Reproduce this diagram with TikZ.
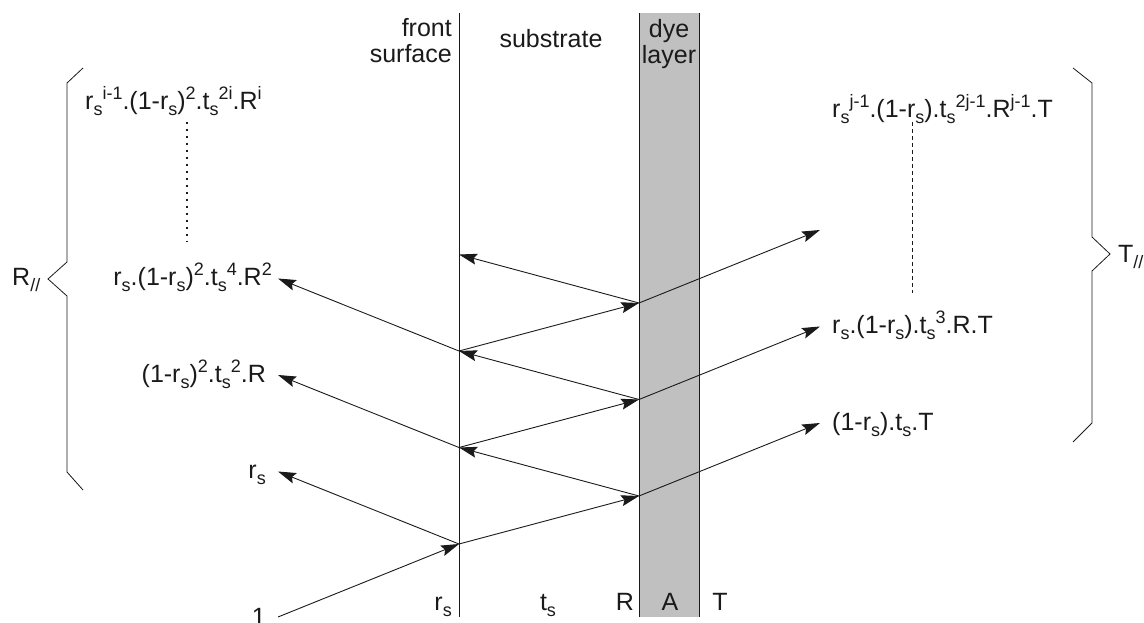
\documentclass[tikz,border=0pt]{standalone}
\usepackage{fontspec}
\setmainfont{Liberation Sans}
\usetikzlibrary{arrows.meta}
\definecolor{ink}{HTML}{1A1A1A}
\definecolor{dyegray}{HTML}{C0C0C0}
\newcommand\lsub[1]{\raisebox{-6pt}{\fontsize{18}{18}\selectfont #1}}
\newcommand\lsup[1]{\raisebox{10pt}{\fontsize{18}{18}\selectfont #1}}
\begin{document}
\begin{tikzpicture}[x=1pt,y=-1pt,
  lbl/.style={inner sep=0pt, font=\fontsize{25}{26.5}\selectfont, text=ink},
  ray/.style={draw=ink, line width=0.9pt},
  arr/.style={ray, -{Stealth[length=18pt,width=11pt,inset=3pt]}},
  wall/.style={draw=ink, line width=0.9pt},
  bracket/.style={draw=ink, line width=0.8pt, line join=miter}]
\useasboundingbox (0,0) rectangle (1144,623);
% layers
\fill[dyegray] (639,13) rectangle (699,617);
\draw[wall] (459,13) -- (459,617);
\draw[wall] (639,13) -- (639,617);
\draw[wall] (699,13) -- (699,617);
% header labels
\node[lbl, align=right, anchor=base east] (front) at (452,63) {front\\surface};
\node[lbl, anchor=base] (substr) at (551,48) {substrate};
\node[lbl, align=center, anchor=base] (dye) at (669,64) {dye\\layer};
% bottom labels
\node[lbl, anchor=base east] (brs) at (452,610) {r\lsub{s}};
\node[lbl, anchor=base] (bts) at (548,610) {t\lsub{s}};
\node[lbl, anchor=base] (bR) at (625,610) {R};
\node[lbl, anchor=base] (bA) at (670,610) {A};
\node[lbl, anchor=base] (bT) at (720,610) {T};
% ray points
\coordinate (src) at (278,617);
\coordinate (P0) at (459,544);
\coordinate (D1) at (639,496);
\coordinate (P1) at (459,447.5);
\coordinate (D2) at (639,399.5);
\coordinate (P2) at (459,351);
\coordinate (D3) at (639,303);
\coordinate (P3) at (459,254.5);
\coordinate (R0) at (278,471.5);
\coordinate (R1) at (278,375);
\coordinate (R2) at (278,278.5);
\coordinate (T1) at (820,423);
\coordinate (T2) at (820,326.5);
\coordinate (T3) at (820,230);
% rays
\draw[arr] (src) -- (P0);
\draw[arr] (P0) -- (R0);
\draw[arr] (P0) -- (D1);
\draw[arr] (D1) -- (P1);
\draw[arr] (D1) -- (T1);
\draw[arr] (P1) -- (R1);
\draw[arr] (P1) -- (D2);
\draw[arr] (D2) -- (P2);
\draw[arr] (D2) -- (T2);
\draw[arr] (P2) -- (R2);
\draw[arr] (P2) -- (D3);
\draw[arr] (D3) -- (P3);
\draw[arr] (D3) -- (T3);
% left labels
\node[lbl, anchor=base east] (one) at (266,625) {1};
\node[lbl, anchor=base east] (lr0) at (266,478) {r\lsub{s}};
\node[lbl, anchor=base east] (lr1) at (266,382) {(1-r\lsub{s})\lsup{2}.t\lsub{s}\lsup{2}.R};
\node[lbl, anchor=base east] (lr2) at (272,285) {r\lsub{s}.(1-r\lsub{s})\lsup{2}.t\lsub{s}\lsup{4}.R\lsup{2}};
\node[lbl, anchor=base west] (lri) at (85,110) {r\lsub{s}\lsup{i-1}.(1-r\lsub{s})\lsup{2}.t\lsub{s}\lsup{2i}.R\lsup{i}};
\coordinate (dotA) at (187,122);
\coordinate (dotB) at (187,242);
\draw[draw=ink, line width=1.3pt, dash pattern=on 1.6pt off 5.4pt] (dotA) -- (dotB);
% right labels
\node[lbl, anchor=base west] (tr1) at (832,430) {(1-r\lsub{s}).t\lsub{s}.T};
\node[lbl, anchor=base west] (tr2) at (832,333) {r\lsub{s}.(1-r\lsub{s}).t\lsub{s}\lsup{3}.R.T};
\node[lbl, anchor=base west] (trj) at (832,118) {r\lsub{s}\lsup{j-1}.(1-r\lsub{s}).t\lsub{s}\lsup{2j-1}.R\lsup{j-1}.T};
\coordinate (dashA) at (912,122);
\coordinate (dashB) at (912,293);
\draw[draw=ink, line width=0.8pt, dash pattern=on 4pt off 3pt] (dashA) -- (dashB);
% braces
\draw[bracket] (83,68) -- (67,83) -- (67,262) -- (48,279) -- (67,296) -- (67,472) -- (83,490);
\draw[bracket] (1073,68) -- (1092,83) -- (1092,237) -- (1110,254) -- (1092,271) -- (1092,423) -- (1073,442);
\node[lbl, anchor=base west] (Rpar) at (12,285) {R\lsub{//}};
\node[lbl, anchor=base west] (Tpar) at (1118,262) {T\lsub{//}};
\end{tikzpicture}
\end{document}
